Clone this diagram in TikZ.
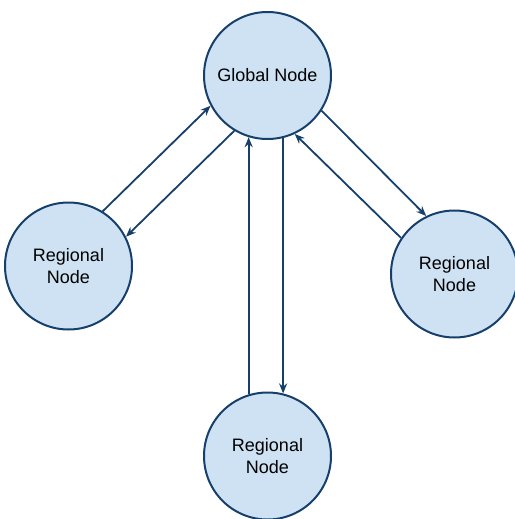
\documentclass[tikz,border=0pt]{standalone}
\usepackage{fontspec}
\setmainfont{Liberation Sans}
\usetikzlibrary{arrows.meta}

\definecolor{nodefill}{RGB}{207,226,243}
\definecolor{nodeline}{RGB}{22,64,107}

\begin{document}
\begin{tikzpicture}[
    x=1pt, y=-1pt,
    >={Stealth[length=10pt, width=8pt]},
    % --- node styles ---
    site/.style={
        circle, draw=nodeline, fill=nodefill, line width=2pt,
        minimum size=127pt, inner sep=0pt,
        font=\fontsize{18}{21.5}\selectfont, align=center},
    arr/.style={->, line width=1.8pt, nodeline},
]

\useasboundingbox (0,0) rectangle (514,519);

% ===== NODES =====
\node[site] (global) at (267.5,75.5) {Global Node};
\node[site] (left)   at (68.5,266)   {Regional\\Node};
\node[site] (right)  at (454.5,274)  {Regional\\Node};
\node[site] (bottom) at (267.5,456)  {Regional\\Node};

% ===== ARROWS — left pair =====
\draw[arr] (left.58) -- (global.208);
\draw[arr] (global.239) -- (left.27);

% ===== ARROWS — bottom pair =====
\draw[arr] (bottom.107) -- (global.253);
\draw[arr] (global.284) -- (bottom.76);

% ===== ARROWS — right pair =====
\draw[arr] (global.327) -- (right.116);
\draw[arr] (right.146) -- (global.295);

\end{tikzpicture}
\end{document}
